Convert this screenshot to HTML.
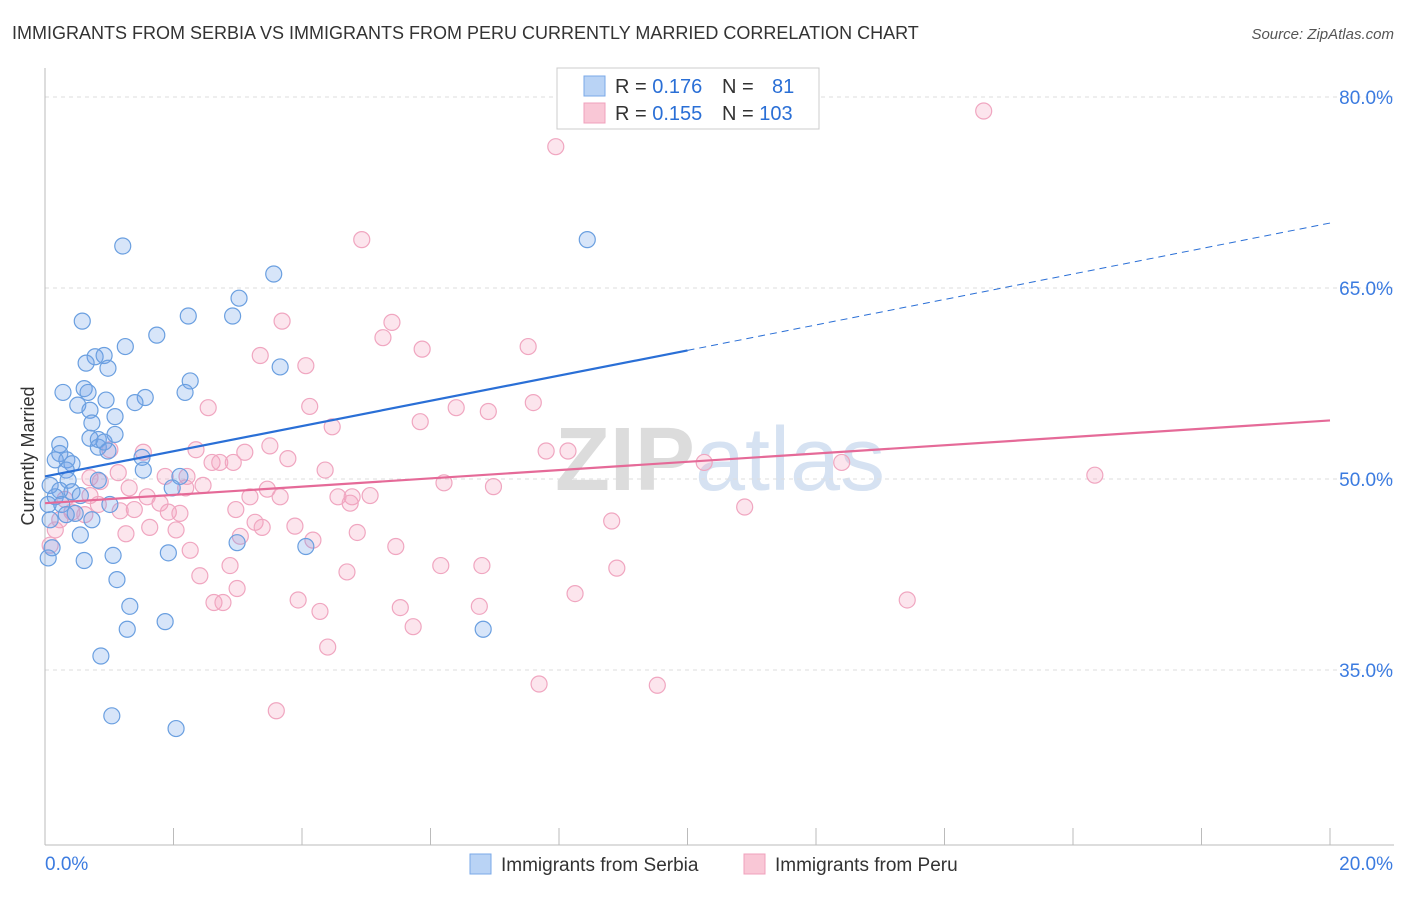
<!DOCTYPE html>
<html><head><meta charset="utf-8">
<style>
body{margin:0;background:#fff;font-family:"Liberation Sans",sans-serif;}
svg text{font-family:"Liberation Sans",sans-serif;}
</style></head>
<body>
<svg id="chart" width="1406" height="892" xmlns="http://www.w3.org/2000/svg">
<text x="12" y="39" font-size="18" fill="#333">IMMIGRANTS FROM SERBIA VS IMMIGRANTS FROM PERU CURRENTLY MARRIED CORRELATION CHART</text>
<text x="1394" y="39" font-size="15" fill="#555" font-style="italic" text-anchor="end">Source: ZipAtlas.com</text>
<text x="34" y="456" font-size="18" fill="#333" text-anchor="middle" transform="rotate(-90 34 456)">Currently Married</text>
<text x="720" y="490" font-size="90" fill="#e4e4e4" text-anchor="middle" font-family="Liberation Serif"><tspan fill="#dcdcdc" font-weight="bold">ZIP</tspan><tspan fill="#d6e2f2" font-family="Liberation Sans">atlas</tspan></text>
<g id="grid"></g>
<g id="points"></g>
<g id="trends"></g>
<g>
<rect x="557" y="68" width="262" height="61" fill="#fff" stroke="#ccc"/>
<rect x="584" y="76" width="21" height="20" fill="#b9d3f5" stroke="#7aa8e8"/>
<rect x="584" y="103" width="21" height="20" fill="#f9c7d6" stroke="#f0a0bc"/>
<text x="615" y="93" font-size="20" fill="#333">R = <tspan fill="#2a6fd6">0.176</tspan></text>
<text x="722" y="93" font-size="20" fill="#333">N = <tspan fill="#2a6fd6" x="772">81</tspan></text>
<text x="615" y="120" font-size="20" fill="#333">R = <tspan fill="#2a6fd6">0.155</tspan></text>
<text x="722" y="120" font-size="20" fill="#333">N = <tspan fill="#2a6fd6">103</tspan></text>
</g>
<g>
<rect x="470" y="854" width="21" height="20" fill="#b9d3f5" stroke="#7aa8e8"/>
<text x="501" y="871" font-size="19" fill="#333">Immigrants from Serbia</text>
<rect x="744" y="854" width="21" height="20" fill="#f9c7d6" stroke="#f0a0bc"/>
<text x="775" y="871" font-size="19" fill="#333">Immigrants from Peru</text>
</g>
</svg>
<script>
const yTicks=[80,65,50,35];
const xTickVals=[0,2,4,6,8,10,12,14,16,18,20];
const blueX=[1.21,8.44,3.56,3.02,0.58,2.23,2.92,1.74,1.25,0.78,0.92,0.64,0.98,3.66,2.26,0.28,0.61,0.67,2.18,1.56,0.95,0.51,1.40,0.70,1.09,0.73,0.23,0.70,0.83,1.09,0.83,0.92,0.98,0.23,0.34,0.16,0.42,0.33,1.51,1.53,2.10,1.98,0.36,0.83,0.08,0.23,0.42,0.16,0.55,0.05,0.26,0.47,1.01,0.73,0.55,0.11,0.05,1.06,0.61,1.92,2.99,4.06,1.12,1.32,1.28,1.87,6.82,0.87,1.04,2.04,0.08,0.33];
const blueY=[68.3,68.8,66.1,64.2,62.4,62.8,62.8,61.3,60.4,59.6,59.7,59.1,58.7,58.8,57.7,56.8,57.1,56.8,56.8,56.4,56.2,55.8,56.0,55.4,54.9,54.4,52.7,53.2,53.1,53.5,52.5,52.9,52.2,52.0,51.5,51.5,51.2,50.7,51.7,50.7,50.2,49.3,49.9,49.9,49.5,49.1,49.0,48.6,48.7,48.0,48.0,47.3,48.0,46.8,45.6,44.6,43.8,44.0,43.6,44.2,45.0,44.7,42.1,40.0,38.2,38.8,38.2,36.1,31.4,30.4,46.8,47.2];
const pinkX=[14.61,7.95,4.93,3.69,5.40,5.26,5.87,7.52,3.35,4.06,2.54,4.12,6.40,6.90,7.60,4.47,5.84,1.53,2.35,3.11,3.50,3.78,7.80,8.14,2.60,2.72,2.93,1.01,1.14,1.87,2.21,4.36,10.26,12.40,16.34,0.70,6.21,6.98,1.31,2.19,2.46,3.46,1.59,3.19,3.66,4.56,4.78,5.06,4.75,1.79,1.39,1.17,0.83,1.92,2.10,2.97,10.89,8.82,3.27,3.38,3.89,1.63,2.04,3.04,4.17,4.86,1.26,5.46,2.26,2.88,6.16,6.80,8.90,4.70,2.41,2.99,8.25,13.42,2.63,2.77,3.94,5.53,6.76,4.28,5.73,4.40,7.69,9.53,3.60,0.16,0.23,0.42,0.62,0.08,0.31,0.70,0.86];
const pinkY=[78.9,76.1,68.8,62.4,62.3,61.1,60.2,60.4,59.7,58.9,55.6,55.7,55.6,55.3,56.0,54.1,54.5,52.1,52.3,52.1,52.6,51.6,52.2,52.2,51.3,51.3,51.3,52.3,50.5,50.2,50.2,50.7,51.3,51.3,50.3,50.1,49.7,49.4,49.3,49.3,49.5,49.2,48.6,48.6,48.6,48.6,48.6,48.7,48.1,48.1,47.6,47.5,48.0,47.4,47.3,47.6,47.8,46.7,46.6,46.2,46.3,46.2,46.0,45.5,45.2,45.8,45.7,44.7,44.4,43.2,43.2,43.2,43.0,42.7,42.4,41.4,41.0,40.5,40.3,40.3,40.5,39.9,40.0,39.6,38.4,36.8,33.9,33.8,31.8,46.0,46.8,47.4,47.2,44.8,48.4,48.7,49.8];
const blueTrend=[50.2,60.1,70.1]; // at x=0, 10, 20
const pinkTrend=[48.1,54.6]; // at x=0, 20
const NS='http://www.w3.org/2000/svg';
const X0=45,X1=1330,Y50=479,PPY=12.733;
function sx(v){return X0+(X1-X0)*v/20;}
function sy(v){return Y50-(v-50)*PPY;}
function mk(tag,attrs,parent){const e=document.createElementNS(NS,tag);for(const k in attrs)e.setAttribute(k,attrs[k]);parent.appendChild(e);return e;}
const grid=document.getElementById('grid');
yTicks.forEach(t=>{
 const l=mk('line',{x1:45,x2:1394,y1:sy(t),y2:sy(t),stroke:'#ddd','stroke-dasharray':'4,4'},grid);
 
 
 const tx=mk('text',{x:1393,y:sy(t)+7,'font-size':19,fill:'#3b7be0','text-anchor':'end'},grid);
 tx.textContent=t.toFixed(1)+'%';
 
 
});
const ax=mk('line',{x1:45,x2:1394,y1:845,y2:845,stroke:'#bbb'},grid);


const ay=mk('line',{x1:45,x2:45,y1:68,y2:845,stroke:'#bbb'},grid);


xTickVals.forEach(t=>{
 const l=mk('line',{x1:sx(t),x2:sx(t),y1:828,y2:845,stroke:'#bbb'},grid);
 
 
});
[[0,'start'],[20,'end']].forEach(([t,a])=>{
 const tx=mk('text',{x:t==0?45:1393,y:870,'font-size':19,fill:'#3b7be0','text-anchor':a},grid);
 tx.textContent=t.toFixed(1)+'%';
 
 
});
const pts=document.getElementById('points');
pinkX.forEach((x,i)=>{
 const c=mk('circle',{cx:sx(x),cy:sy(pinkY[i]),r:8,fill:'rgba(244,160,190,0.28)',stroke:'#f0a6c0','stroke-width':1.2},pts);
 
 
});
blueX.forEach((x,i)=>{
 const c=mk('circle',{cx:sx(x),cy:sy(blueY[i]),r:8,fill:'rgba(110,160,235,0.28)',stroke:'#6a9fe0','stroke-width':1.2},pts);
 
 
});
const tr=document.getElementById('trends');
const b1=mk('line',{x1:sx(0),y1:sy(blueTrend[0]),x2:sx(10),y2:sy(blueTrend[1]),stroke:'#2a6fd6','stroke-width':2.2},tr);


const b2=mk('line',{x1:sx(10),y1:sy(blueTrend[1]),x2:sx(20),y2:sy(blueTrend[2]),stroke:'#2a6fd6','stroke-width':1,'stroke-dasharray':'7,5'},tr);


const p1=mk('line',{x1:sx(0),y1:sy(pinkTrend[0]),x2:sx(20),y2:sy(pinkTrend[1]),stroke:'#e56a98','stroke-width':2.2},tr);


</script>
</body></html>
